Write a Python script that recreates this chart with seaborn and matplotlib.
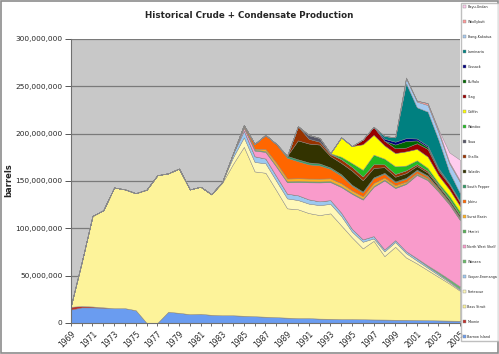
import numpy as np
import pandas as pd
import seaborn as sns
import matplotlib.pyplot as plt
from matplotlib.ticker import FuncFormatter, MultipleLocator
from matplotlib.patches import Rectangle

# yearly production, millions of barrels (1969 .. 2005)
years = list(range(1969, 2006))

barrow = [14, 16.3, 16.3, 15.9, 15.5, 15.5, 13.4, 0, 0, 11.7,
          10.6, 9.2, 9.5, 8.5, 8, 8, 7.5, 7, 6.5, 6,
          5.5, 5, 5, 4.5, 4.3, 4, 4, 3.8, 3.6, 3.5,
          3.3, 3.2, 3, 2.8, 2.6, 2.4, 2.2]
moonie = [3, 1.5, 1, 0.5, 0, 0, 0, 0, 0, 0,
          0, 0, 0, 0, 0, 0, 0, 0, 0, 0,
          0, 0, 0, 0, 0, 0, 0, 0, 0, 0,
          0, 0, 0, 0, 0, 0, 0]
bass_strait = [1, 46.2, 95.7, 102.6, 127.5, 125.5, 123.6, 140.7, 156, 146.3,
               152.4, 131.8, 134.3, 127.3, 140, 160, 178.5, 153, 152.1, 134,
               115.5, 115, 111, 109.4, 111.4, 99, 86.3, 74.9, 83.1, 67,
               77.1, 65.9, 59.8, 52.9, 46, 39.2, 31.6]
fortescue = [0, 0, 0, 0, 0, 0, 0, 0, 0, 0,
             0, 0, 0, 0, 1, 7, 10, 10, 10, 10,
             10.5, 9.8, 10, 10.5, 10, 10, 6, 7, 2.5, 5,
             5, 4.6, 3, 2.5, 2, 1.5, 1]
cooper = [0, 0, 0, 0, 0, 0, 0, 0, 0, 0,
          0, 0, 0, 0, 0, 4, 7, 6, 5, 5,
          5, 5, 4.5, 4, 4, 3.5, 3, 2.5, 2.5, 2,
          2, 2, 2, 1.5, 1.5, 1, 1]
wanaea = [0, 0, 0, 0, 0, 0, 0, 0, 0, 0,
          0, 0, 0, 0, 0, 0, 0, 0, 0, 0,
          0, 0, 0, 0, 0, 0, 0, 0, 0, 0,
          0, 0, 0.5, 1, 1.5, 2, 2.5]
nws = [0, 0, 0, 0, 0, 0, 0, 0, 0, 0,
       0, 0, 0, 0, 0, 0, 3, 6, 7, 10,
       12, 14, 18, 20, 19, 27, 37, 42, 52, 73,
       55, 71, 88, 90, 85, 79, 70]
harriet = [0, 0, 0, 0, 0, 0, 0, 0, 0, 0,
           0, 0, 0, 0, 0, 0, 1, 1, 1, 1,
           1, 1, 1, 1, 1, 1, 1, 1, 1, 1,
           1, 1, 1, 1, 1, 1, 1]
surat = [0, 0, 0, 0, 0, 0, 0, 0, 0, 0,
         0, 0, 0, 0, 0, 0, 1, 1, 2, 3,
         3, 3, 3, 3, 3, 3, 2.5, 2.5, 3, 2,
         2, 1.5, 1, 1, 0.8, 0.5, 0.4]
jabiru = [0, 0, 0, 0, 0, 0, 0, 0, 0, 0,
          0, 0, 0, 0, 0, 0, 1, 5, 15, 20,
          22, 18, 15, 14, 10, 8, 5, 4, 5, 4,
          3, 3, 2.5, 2, 1.5, 1, 1]
south_pepper = [0, 0, 0, 0, 0, 0, 0, 0, 0, 0,
                0, 0, 0, 0, 0, 0, 0, 0, 0, 0,
                2, 2, 2, 2, 1.5, 1.5, 1, 1, 1, 1,
                1, 1, 1, 1, 0.5, 0.5, 0.5]
saladin = [0, 0, 0, 0, 0, 0, 0, 0, 0, 0,
           0, 0, 0, 0, 0, 0, 0, 0, 0, 0,
           0, 20, 20, 20, 12, 12, 15, 12, 10, 6,
           5, 5, 4, 3, 2, 2, 2]
challis = [0, 0, 0, 0, 0, 0, 0, 0, 0, 0,
           0, 0, 0, 0, 0, 0, 0, 0, 0, 0,
           0, 15, 5, 3, 2, 4, 4, 4, 4, 3,
           3, 3, 2, 2, 1.5, 1, 1]
skua = [0, 0, 0, 0, 0, 0, 0, 0, 0, 0,
        0, 0, 0, 0, 0, 0, 0, 0, 0, 0,
        0, 0, 4, 4, 1, 0, 0, 0, 0, 0,
        0, 0, 0, 0, 0, 0, 0]
wandoo = [0, 0, 0, 0, 0, 0, 0, 0, 0, 0,
          0, 0, 0, 0, 0, 0, 0, 0, 0, 0,
          0, 0, 0, 0, 0, 2.5, 4, 7, 10, 6,
          8, 5, 4, 3, 2, 3, 3]
griffin = [0, 0, 0, 0, 0, 0, 0, 0, 0, 0,
           0, 0, 0, 0, 0, 0, 0, 0, 0, 0,
           0, 0, 0, 0, 0, 20.5, 18, 27, 21, 14,
           14, 15, 12, 12, 8, 7, 6]
stag = [0, 0, 0, 0, 0, 0, 0, 0, 0, 0,
        0, 0, 0, 0, 0, 0, 0, 0, 0, 0,
        0, 0, 0, 0, 0, 0, 0, 5, 8.5, 5,
        5, 4, 6, 8, 5, 5, 4]
buffalo = [0, 0, 0, 0, 0, 0, 0, 0, 0, 0,
           0, 0, 0, 0, 0, 0, 0, 0, 0, 0,
           0, 0, 0, 0, 0, 0, 0, 0, 0, 0,
           4, 7, 3, 2, 1.5, 1, 1]
cossack = [0, 0, 0, 0, 0, 0, 0, 0, 0, 0,
           0, 0, 0, 0, 0, 0, 0, 0, 0, 0,
           0, 0, 0, 0, 0, 0, 0, 0, 0, 2,
           3, 3, 2, 1.5, 1, 0.5, 0.5]
laminaria = [0, 0, 0, 0, 0, 0, 0, 0, 0, 0,
             0, 0, 0, 0, 0, 0, 0, 0, 0, 0,
             0, 0, 0, 0, 0, 0, 0, 0, 0, 3,
             4.6, 58, 33, 36, 30, 12, 8]
elang = [0, 0, 0, 0, 0, 0, 0, 0, 0, 0,
         0, 0, 0, 0, 0, 0, 0, 0, 0, 0,
         0, 0, 0, 0, 0, 0, 0, 0, 0, 0,
         0, 5, 6, 7, 8, 9, 12]
woollybutt = [0, 0, 0, 0, 0, 0, 0, 0, 0, 0,
              0, 0, 0, 0, 0, 0, 0, 0, 0, 0,
              0, 0, 0, 0, 0, 0, 0, 0, 0, 0,
              0, 1, 1, 2, 2, 1.5, 1.5]
bayu = [0, 0, 0, 0, 0, 0, 0, 0, 0, 0,
        0, 0, 0, 0, 0, 0, 0, 0, 0, 0,
        0, 0, 0, 0, 0, 0, 0, 0, 0, 0,
        0, 0, 0, 0, 1, 10, 22]

fields = ['Barrow Island', 'Moonie', 'Bass Strait', 'Fortescue', 'Cooper-Eromanga',
          'Wanaea', 'North West Shelf', 'Harriet', 'Surat Basin', 'Jabiru',
          'South Pepper', 'Saladin', 'Challis', 'Skua', 'Wandoo', 'Griffin',
          'Stag', 'Buffalo', 'Cossack', 'Laminaria', 'Elang-Kakatua',
          'Woollybutt', 'Bayu-Undan']
series = [barrow, moonie, bass_strait, fortescue, cooper, wanaea, nws, harriet,
          surat, jabiru, south_pepper, saladin, challis, skua, wandoo, griffin,
          stag, buffalo, cossack, laminaria, elang, woollybutt, bayu]
colors = ['#6a9cf0', '#c0302a', '#fdf39a', '#fff8b8', '#9cc8f0',
          '#66bb66', '#f99bcb', '#55b055', '#ffb020', '#ff6600',
          '#339966', '#333300', '#993300', '#555566', '#22bb22', '#ffff00',
          '#990000', '#006600', '#000080', '#008080', '#a6caf0',
          '#ff9999', '#ffccee']

df = pd.DataFrame({f: np.array(s) * 1e6 for f, s in zip(fields, series)}, index=years)

sns.set_style('white')
plt.rcParams['font.family'] = ['DejaVu Sans']

fig = plt.figure(figsize=(4.99, 3.54), dpi=100)
ax = fig.add_axes([0.142, 0.088, 0.78, 0.802])
ax.set_facecolor('#c8c8c8')

ax.stackplot(df.index, *[df[c].values for c in df.columns], labels=df.columns,
             colors=colors, edgecolor='#8a8a8a', linewidth=0.3)

ax.set_xlim(1969, 2005)
ax.set_ylim(0, 3e8)
ax.yaxis.set_major_locator(MultipleLocator(5e7))
ax.yaxis.set_major_formatter(FuncFormatter(lambda v, _: f'{int(v):,}'))
ax.grid(axis='y', color='#7a7a7a', linewidth=0.9)
ax.set_axisbelow(True)

ax.set_xticks(years)
ax.set_xticklabels([str(y) if (y - 1969) % 2 == 0 else '' for y in years],
                   rotation=45, ha='right', rotation_mode='anchor', fontsize=5.5)
ax.tick_params(axis='y', labelsize=5.3, length=4, width=0.7, color='#555555', pad=2)
ax.tick_params(axis='x', length=2.5, width=0.6, color='#555555', pad=2)
ax.tick_params(left=True, bottom=True)

sns.despine(ax=ax, top=True, right=True)
for s in ['left', 'bottom']:
    ax.spines[s].set_color('#707070')
    ax.spines[s].set_linewidth(0.8)

fig.text(0.499, 0.955, 'Historical Crude + Condensate Production',
         ha='center', va='center', fontsize=6.3, fontweight='bold')
fig.text(0.018, 0.49, 'barrels', rotation=90, ha='center', va='center',
         fontsize=6, fontweight='bold')

handles, labels = ax.get_legend_handles_labels()
fig.legend(handles[::-1], labels[::-1], loc='upper left', bbox_to_anchor=(0.924, 0.992),
           fontsize=2.4, frameon=True, fancybox=False, edgecolor='#b0b0b0',
           handlelength=0.8, handleheight=0.8, handletextpad=0.5,
           labelspacing=3.3, borderpad=0.6, borderaxespad=0)

fig.add_artist(Rectangle((0.002, 0.003), 0.996, 0.994, transform=fig.transFigure,
                         fill=False, edgecolor='#8c8c8c', linewidth=1.2))

fig.savefig('out.png', dpi=100)
